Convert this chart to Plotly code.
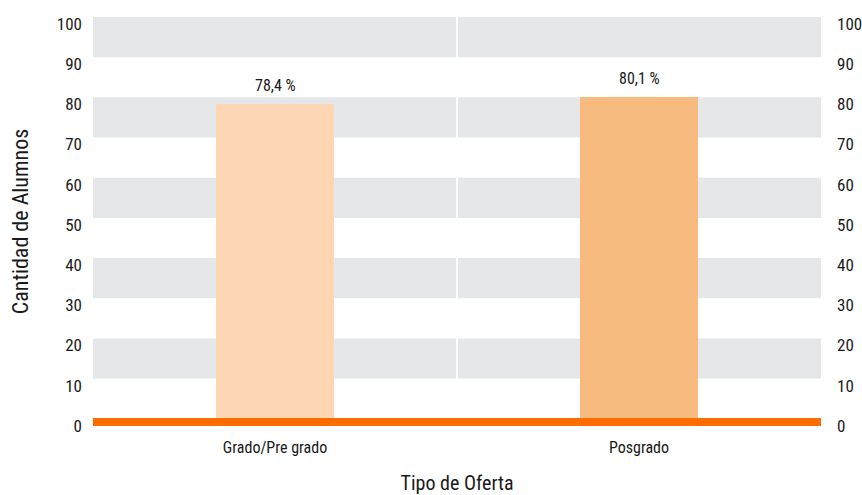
import plotly.graph_objects as go

categories = ["Grado/Pre grado", "Posgrado"]
values = [78.4, 80.1]
value_labels = ["78,4 %", "80,1 %"]
bar_colors = ["#FDD7B3", "#F7BB80"]
y_ticks = [0, 10, 20, 30, 40, 50, 60, 70, 80, 90, 100]
band_ranges = [(10, 20), (30, 40), (50, 60), (70, 80), (90, 100)]

FONT = "Liberation Sans Narrow, Roboto Condensed, Arial Narrow, sans-serif"

fig = go.Figure()
fig.add_trace(go.Bar(
    x=categories, y=values, marker=dict(color=bar_colors, line=dict(width=0)),
    width=0.322, showlegend=False, hoverinfo="skip",
))
fig.add_trace(go.Scatter(x=categories, y=values, yaxis="y2", mode="markers",
                         marker=dict(opacity=0), showlegend=False, hoverinfo="skip"))

shapes = []
for lo, hi in band_ranges:
    shapes.append(dict(type="rect", xref="paper", yref="y", x0=0, x1=1, y0=lo, y1=hi,
                       fillcolor="#E6E7E8", line=dict(width=0), layer="below"))
shapes.append(dict(type="line", xref="x", yref="paper", x0=0.5, x1=0.5, y0=0, y1=1,
                   line=dict(color="white", width=2), layer="below"))
shapes.append(dict(type="rect", xref="paper", yref="y", x0=0, x1=1, y0=0.2, y1=-1.8,
                   fillcolor="#FF6C00", line=dict(width=0), layer="above"))

annotations = []
for c, v, t in zip(categories, values, value_labels):
    annotations.append(dict(x=c, y=v, text=t, showarrow=False, yshift=18,
                            font=dict(family=FONT, size=16, color="#1a1a1a")))

axis_font = dict(family=FONT, size=16, color="#1a1a1a")
y_font = dict(family=FONT, size=17, color="#1a1a1a")
title_font = dict(family=FONT, size=20, color="#1a1a1a")
ytitle_font = dict(family=FONT, size=22, color="#1a1a1a")
fig.update_layout(
    width=862, height=495,
    margin=dict(l=93, r=41, t=17, b=69),
    paper_bgcolor="white", plot_bgcolor="white",
    font=dict(family=FONT, color="#1a1a1a"),
    bargap=0,
    shapes=shapes, annotations=annotations,
    xaxis=dict(showgrid=False, zeroline=False, showline=False, ticks="", automargin=False,
               tickfont=axis_font, ticklabelstandoff=10,
               title=dict(text="Tipo de Oferta", font=title_font, standoff=22)),
    yaxis=dict(range=[-1.8, 100], tickvals=y_ticks, showgrid=False, zeroline=False,
               showline=False, ticks="", tickfont=y_font, ticklabelstandoff=10,
               ticklabelshift=7, automargin=False,
               title=dict(text="Cantidad de Alumnos", font=ytitle_font, standoff=22)),
    yaxis2=dict(range=[-1.8, 100], tickvals=y_ticks, overlaying="y", side="right",
                showgrid=False, zeroline=False, showline=False, ticks="", automargin=False,
                tickfont=y_font, ticklabelstandoff=15, ticklabelshift=7),
)

fig.write_html("out.html", config={"displayModeBar": False},
               post_script="document.body.style.margin='0';")
